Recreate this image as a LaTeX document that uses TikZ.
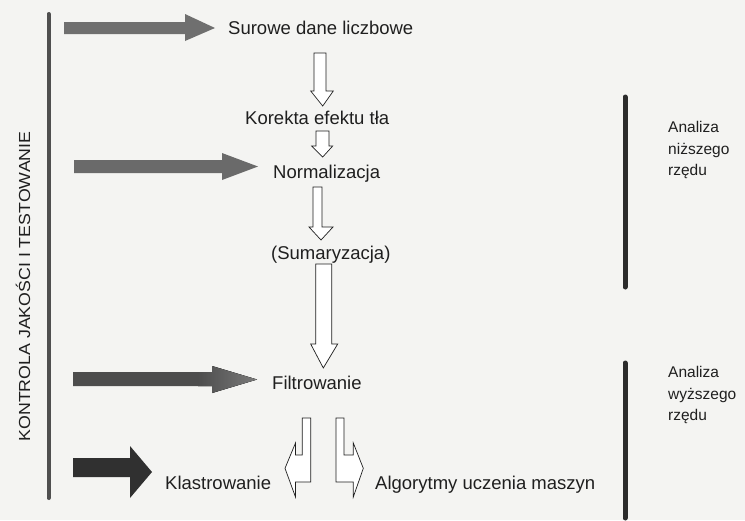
\documentclass[tikz,border=0pt]{standalone}
\usepackage{fontspec}
\setmainfont{Liberation Sans}
\usepackage{graphicx}
\definecolor{paper}{HTML}{F4F4F2}
\definecolor{ink}{HTML}{1F1F1F}
\definecolor{barA}{HTML}{6F6F6F}
\definecolor{barB}{HTML}{6A6A6A}
\definecolor{barC}{HTML}{4D4D4D}
\definecolor{barCtip}{HTML}{7A7A7A}
\definecolor{barD}{HTML}{303030}
\definecolor{rule}{HTML}{4F4F4F}
\definecolor{ruleR}{HTML}{2C2C2C}

% hollow downward block arrow:
% shaft left, shaft right, head left, head right, tip x, top y, head y, tip y
\newcommand\hollowdown[8]{%
  \filldraw[hollow] (#1,#6) -- (#2,#6) -- (#2,#7) -- (#4,#7) -- (#5,#8)
    -- (#3,#7) -- (#1,#7) -- cycle;}
% solid rightward block arrow:
% colour, shaft start x, head x, tip x, shaft top, shaft bottom, head top, head bottom, tip y
\newcommand\solidright[9]{%
  \fill[#1] (#2,#5) -- (#3,#5) -- (#3,#7) -- (#4,#9) -- (#3,#8)
    -- (#3,#6) -- (#2,#6) -- cycle;}

\begin{document}
\begin{tikzpicture}[x=1pt,y=-1pt,
  hollow/.style={fill=white, draw=ink, line width=0.7pt, line join=miter},
  label/.style={inner sep=0pt, anchor=base west, text=ink,
    font=\fontsize{18.5}{22}\selectfont},
  side/.style={inner sep=0pt, anchor=base west, text=ink, align=left,
    font=\fontsize{15.5}{21.5}\selectfont},
  bar/.style={line width=#1, line cap=round}]

% page
\fill[paper] (0,0) rectangle (745,520);
\useasboundingbox (0,0) rectangle (745,520);

% quality-control rule and its caption
\draw[bar=4pt, rule] (48.5,14) -- (48.5,498);
\node[inner sep=0pt, rotate=90, text=ink,
  font=\fontsize{16}{18}\selectfont] (kontrola) at (23,286.5)
  {\scalebox{1.11}[1]{KONTROLA JAKOŚCI I TESTOWANIE}};

% processing steps
\node[label] (surowe)  at (228,34.6)  {Surowe dane liczbowe};
\node[label] (korekta) at (245,124.6) {Korekta efektu tła};
\node[label] (norm)    at (273,178.6) {Normalizacja};
\node[label] (sum)     at (271,259.6) {(Sumaryzacja)};
\node[label] (filtr)   at (272,389.6) {Filtrowanie};
\node[label] (klastr)  at (165,489.6) {Klastrowanie};
\node[label] (algo)    at (375,489.6) {Algorytmy uczenia maszyn};

% analysis levels
\draw[bar=5pt, ruleR] (625,97) -- (625,287);
\draw[bar=5pt, ruleR] (625,363) -- (625,518);
\node[side] (nizsze) at (668,175.5) {Analiza\\niższego\\rzędu};
\node[side] (wyzsze) at (668,420.5) {Analiza\\wyższego\\rzędu};

% quality-control inputs
\solidright{barA}{64}{185}{215}{22}{34}{14}{41}{28}
\solidright{barB}{74}{222}{258}{160}{173}{153}{180}{166.5}
\solidright{barC}{73}{212}{257}{372}{386}{366}{393}{379.5}
\begin{scope}
  \clip (198,360) rectangle (260,400);
  \fill[left color=barC, right color=barCtip]
    (198,372) -- (212,372) -- (212,366) -- (257,379.5) -- (212,393)
    -- (212,386) -- (198,386) -- cycle;
\end{scope}
\solidright{barD}{73}{130}{152}{458}{477}{446}{498}{472}

% flow between steps
\hollowdown{314}{326}{310.7}{333.3}{322.7}{53}{91}{106}
\hollowdown{316}{329}{311.7}{332.7}{322.7}{131}{146}{157}
\hollowdown{313}{322}{309}{333}{321}{187}{227}{240}
\hollowdown{315.7}{331.7}{310.7}{337.7}{323.3}{264}{344}{368}

% split into the two higher-level branches
\filldraw[hollow] (302.3,418) -- (310.7,418) -- (310.7,482) -- (295.5,482)
  -- (295.5,497) -- (285,468.3) -- (295.5,443) -- (295.5,455) -- (302.3,455) -- cycle;
\filldraw[hollow] (336,418) -- (344,418) -- (344,455) -- (353.3,455)
  -- (353.3,443) -- (363.3,468.3) -- (353.3,497) -- (353.3,482) -- (336,482) -- cycle;

\end{tikzpicture}
\end{document}
